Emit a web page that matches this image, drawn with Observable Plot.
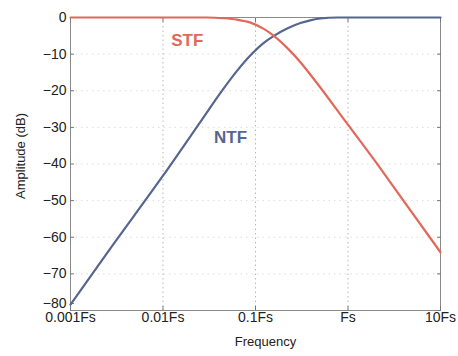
<!DOCTYPE html>
<html>
<head>
<meta charset="utf-8">
<script src="https://cdn.jsdelivr.net/npm/d3@7"></script>
<script src="https://cdn.jsdelivr.net/npm/@observablehq/plot@0.6"></script>
<style>
  html, body { margin: 0; padding: 0; background: #fff; }
  #chart { width: 458px; height: 356px; }
  svg { font-family: "Liberation Sans", Arial, sans-serif; }
</style>
</head>
<body>
<div id="chart"></div>
<script>
// Frequency in units of Fs, amplitude in dB
const ntfFreq = [0.001, 0.00255, 0.01, 0.0265, 0.0437, 0.0634, 0.0883, 0.123, 0.158, 0.220, 0.306, 0.40, 0.505, 0.764, 10];
const ntfDb   = [-78.4, -63.9, -43.2, -27.8, -19.9, -14.5, -10.3, -6.9, -5.0, -3.0, -1.5, -0.7, -0.25, 0, 0];

const stfFreq = [0.001, 0.03, 0.045, 0.0634, 0.0883, 0.123, 0.158, 0.22, 0.306, 0.427, 0.98, 2.24, 3.40, 10];
const stfDb   = [0, 0, -0.2, -0.6, -1.4, -3.1, -5.0, -8.3, -12.2, -16.8, -29.0, -41.2, -47.6, -64.1];

const xTicks = [0.001, 0.01, 0.1, 1, 10];
const xTickLabels = ["0.001Fs", "0.01Fs", "0.1Fs", "Fs", "10Fs"];
const yTicks = [0, -10, -20, -30, -40, -50, -60, -70, -80];

const seriesNames = ["STF", "NTF"];
const labelFreq = [0.0183, 0.0537];
const labelDb = [-6.3, -32.8];

const colors = {STF: "#e2685a", NTF: "#56668f"};

const ntf = ntfFreq.map((f, i) => ({f, db: ntfDb[i]}));
const stf = stfFreq.map((f, i) => ({f, db: stfDb[i]}));
const labels = seriesNames.map((name, i) => ({name, f: labelFreq[i], db: labelDb[i]}));
const tickLabel = new Map(xTicks.map((t, i) => [t, xTickLabels[i]]));

const chart = Plot.plot({
  width: 458,
  height: 356,
  marginTop: 17,
  marginBottom: 46,
  marginLeft: 70,
  marginRight: 18,
  style: {fontFamily: "Liberation Sans, Arial, sans-serif", fontSize: "13px", color: "#222", background: "#fff"},
  x: {type: "log", domain: [0.001, 10]},
  y: {domain: [-80, 0]},
  marks: [
    Plot.gridX(xTicks.slice(1, -1), {stroke: "#888", strokeOpacity: 0.6, strokeDasharray: "1.5,3"}),
    Plot.gridY(yTicks.slice(1, -1), {stroke: "#bbb", strokeOpacity: 0.5, strokeDasharray: "1.5,4"}),
    Plot.frame({stroke: "#8a8a8a", strokeWidth: 1}),
    Plot.axisX(xTicks, {tickSize: -4, tickPadding: 6, tickFormat: d => tickLabel.get(d), label: null, fontSize: 14, stroke: "#777"}),
    Plot.axisX(xTicks, {anchor: "top", tickSize: -4, tickFormat: () => "", label: null, stroke: "#777"}),
    Plot.axisY(yTicks.slice(0, -1), {tickSize: -4, tickPadding: 8, label: null, fontSize: 14, stroke: "#777"}),
    Plot.axisY(yTicks.slice(-1), {tickSize: -4, tickPadding: 8, dy: -7, label: null, fontSize: 14, stroke: "#777"}),
    Plot.axisY(yTicks, {anchor: "right", tickSize: -4, tickFormat: () => "", label: null, stroke: "#777"}),
    Plot.line(ntf, {x: "f", y: "db", stroke: colors.NTF, strokeWidth: 2.2, curve: "monotone-x"}),
    Plot.line(stf, {x: "f", y: "db", stroke: colors.STF, strokeWidth: 2.2, curve: "monotone-x"}),
    Plot.text(labels, {x: "f", y: "db", text: "name", fill: d => colors[d.name], fontSize: 17, fontWeight: "bold"}),
    Plot.text(["Frequency"], {frameAnchor: "bottom", dy: 35, dx: 10, fontSize: 13, fill: "#222"}),
    Plot.text(["Amplitude (dB)"], {frameAnchor: "left", textAnchor: "middle", dx: -50, dy: -8, rotate: -90, fontSize: 13, fill: "#222"})
  ]
});
document.getElementById("chart").appendChild(chart);
</script>
</body>
</html>
